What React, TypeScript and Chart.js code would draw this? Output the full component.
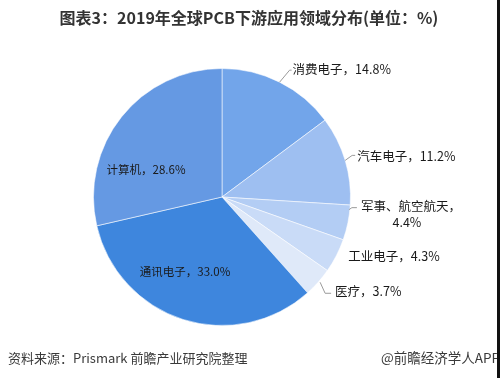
import React, { useEffect, useRef } from "react";
import { Chart, registerables } from "chart.js";

Chart.register(...registerables);

// ---- data ----
const categories = ["消费电子", "汽车电子", "军事、航空航天", "工业电子", "医疗", "通讯电子", "计算机"];
const shares = [14.8, 11.2, 4.4, 4.3, 3.7, 33.0, 28.6];

const titleText = "图表3：2019年全球PCB下游应用领域分布(单位：%)";
const sourceText = "资料来源：Prismark 前瞻产业研究院整理";
const brandText = "@前瞻经济学人APP";

// ---- styles ----
const sliceColors = ["#72a5ea", "#9ebff1", "#b3cdf4", "#c9dbf7", "#dfe9f9", "#3e86dd", "#6599e3"];
const FONT = '"Noto Sans CJK SC", "Noto Sans", sans-serif';

// label layout: outside labels hang off the slice's mid-edge point via a leader,
// inside labels are offset from the pie centre
type LabelLayout =
  | { kind: "out"; leader: [number, number][]; text: [number, number]; twoLine?: boolean }
  | { kind: "in"; offset: [number, number] };

const labelLayout: LabelLayout[] = [
  { kind: "out", leader: [[0, 0], [10, -12], [12, -12]], text: [13, -13] },
  { kind: "out", leader: [[0, 0], [7, -5], [10, -5]], text: [12, -4] },
  { kind: "out", leader: [[1, -13], [4, -15], [9, -15]], text: [13, -16], twoLine: true },
  { kind: "out", leader: [], text: [12, 1] },
  { kind: "out", leader: [[2, 0], [7, 11], [13, 11]], text: [17, 9] },
  { kind: "in", offset: [-37, 75] },
  { kind: "in", offset: [-76, -27] },
];

const fmt = (v: number) => `${v.toFixed(1)}%`;

const labelPlugin = {
  id: "pieLabels",
  afterDatasetsDraw(chart: any) {
    const ctx = chart.ctx as CanvasRenderingContext2D;
    const meta = chart.getDatasetMeta(0);
    ctx.save();
    ctx.textBaseline = "middle";
    meta.data.forEach((arc: any, i: number) => {
      const p = arc.getProps(["x", "y", "startAngle", "endAngle", "outerRadius"], true);
      const mid = (p.startAngle + p.endAngle) / 2;
      const ex = p.x + Math.cos(mid) * p.outerRadius;
      const ey = p.y + Math.sin(mid) * p.outerRadius;
      const lay = labelLayout[i];
      const label = `${categories[i]}，${fmt(shares[i])}`;
      ctx.fillStyle = "#1a1a1a";
      if (lay.kind === "in") {
        ctx.font = `11.5px ${FONT}`;
        ctx.textAlign = "center";
        ctx.fillText(label, p.x + lay.offset[0], p.y + lay.offset[1]);
        return;
      }
      ctx.font = `12.5px ${FONT}`;
      if (lay.leader.length) {
        ctx.strokeStyle = "#9a9a9a";
        ctx.lineWidth = 1;
        ctx.beginPath();
        lay.leader.forEach(([dx, dy], k) => {
          const x = ex + dx;
          const y = ey + dy;
          if (k === 0) ctx.moveTo(x, y);
          else ctx.lineTo(x, y);
        });
        ctx.stroke();
      }
      ctx.textAlign = "left";
      const tx = ex + lay.text[0];
      const ty = ey + lay.text[1];
      if (lay.twoLine) {
        const line1 = `${categories[i]}，`;
        const line2 = fmt(shares[i]);
        ctx.fillText(line1, tx, ty);
        const w1 = ctx.measureText(line1).width;
        ctx.textAlign = "center";
        ctx.fillText(line2, tx + w1 / 2 - 4, ty + 16);
      } else {
        ctx.fillText(label, tx, ty);
      }
    });

    // title
    ctx.fillStyle = "#333333";
    ctx.textAlign = "center";
    ctx.font = `bold 16px ${FONT}`;
    ctx.fillText(titleText, 249, 18);

    // footer
    ctx.font = `13px ${FONT}`;
    ctx.fillStyle = "#3a3a3a";
    ctx.textAlign = "left";
    ctx.fillText(sourceText, 8, 358);
    ctx.textAlign = "right";
    ctx.font = `13.5px ${FONT}`;
    ctx.fillText(brandText, 500, 358);

    // right edge dark strip
    ctx.fillStyle = "#111111";
    ctx.fillRect(497, 0, 3, 378);
    ctx.restore();
  },
};

export default function App() {
  const ref = useRef<HTMLCanvasElement | null>(null);

  useEffect(() => {
    document.body.style.margin = "0";
    document.body.style.background = "#ffffff";
    if (!ref.current) return;
    const chart = new Chart(ref.current, {
      type: "pie",
      data: {
        labels: categories,
        datasets: [
          {
            data: shares,
            backgroundColor: sliceColors,
            borderColor: "rgba(255,255,255,0.55)",
            borderWidth: 1,
          },
        ],
      },
      options: {
        responsive: false,
        animation: false,
        rotation: 0,
        layout: { padding: { top: 68, bottom: 52, left: 93, right: 149 } },
        plugins: {
          legend: { display: false },
          tooltip: { enabled: false },
          title: { display: false },
        },
      },
      plugins: [labelPlugin],
    });
    return () => chart.destroy();
  }, []);

  return (
    <div style={{ width: 500, height: 378, background: "#fff" }}>
      <canvas ref={ref} width={500} height={378} style={{ display: "block", width: 500, height: 378 }} />
    </div>
  );
}
